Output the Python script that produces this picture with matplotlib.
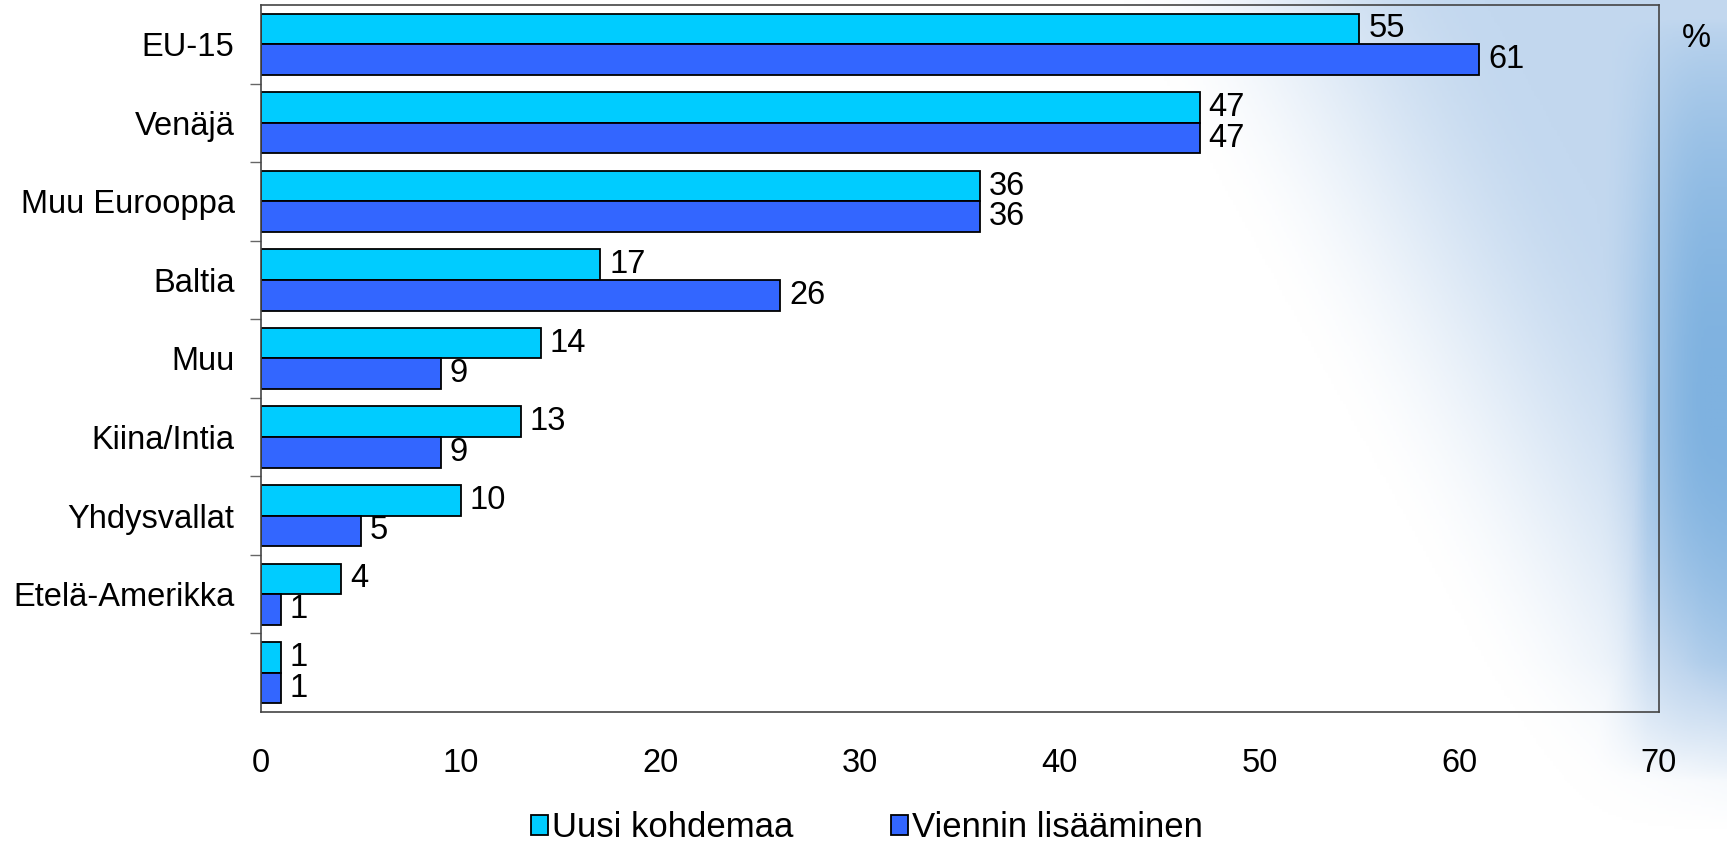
import numpy as np
import matplotlib.pyplot as plt
from matplotlib import font_manager
from matplotlib.colors import LinearSegmentedColormap

plt.rcParams['font.family'] = ['Liberation Sans', 'DejaVu Sans']

# Data
alueet = ['EU-15', 'Venäjä', 'Muu Eurooppa', 'Baltia', 'Muu',
          'Kiina/Intia', 'Yhdysvallat', 'Etelä-Amerikka', '']
uusi_kohdemaa = [55, 47, 36, 17, 14, 13, 10, 4, 1]
viennin_lisays = [61, 47, 36, 26, 9, 9, 5, 1, 1]
sarjat = ['Uusi kohdemaa', 'Viennin lisääminen']
varit = ['#00CCFF', '#3366FF']

fig = plt.figure(figsize=(17.27, 8.5), dpi=100)

# taustan liukuväri (valkoinen -> vaaleansininen oikealla)
bg = fig.add_axes([0, 0, 1, 1], zorder=-10)
xx = np.linspace(0, 1, 600)
yy = np.linspace(0, 1, 300)  # 0 = ylhäällä
X, Y = np.meshgrid(xx, yy)
x0 = 0.64 + 0.27 * Y
t = np.clip((X - x0) / 0.22, 0, 1)
grad = t * t * (3 - 2 * t) * 0.5
grad *= np.clip((0.98 - Y) / 0.2, 0, 1)
pysty = np.clip(np.sin(np.pi * np.clip((Y - 0.02) / 0.9, 0, 1)), 0, 1) ** 0.7
s = np.clip((X - 0.925) / 0.065, 0, 1)
strip = s * s * (3 - 2 * s) * pysty
grad = np.clip(np.maximum(grad, 0.5 * np.clip((X - 0.915) / 0.04, 0, 1) * pysty) + strip * 0.5, 0, 1)
cmap = LinearSegmentedColormap.from_list('bg', ['#ffffff', '#c3d8ef', '#7fb2e0'])
bg.imshow(grad, cmap=cmap, aspect='auto', extent=[0, 1, 0, 1], vmin=0, vmax=1, origin='upper')
bg.axis('off')

ax = fig.add_axes([0.1511, 0.1624, 0.8095, 0.8317])
ax.patch.set_alpha(0)

y = np.arange(len(alueet))
h = 0.39
b1 = ax.barh(y - h / 2, uusi_kohdemaa, height=h, color=varit[0], edgecolor='black',
             linewidth=1.3, label=sarjat[0])
b2 = ax.barh(y + h / 2, viennin_lisays, height=h, color=varit[1], edgecolor='black',
             linewidth=1.3, label=sarjat[1])
for bars, vals in ((b1, uusi_kohdemaa), (b2, viennin_lisays)):
    for bar, v in zip(bars, vals):
        ax.text(v + 0.45, bar.get_y() + bar.get_height() / 2, str(v),
                va='center', ha='left', fontsize=23.5)

ax.set_xlim(0, 70)
ax.set_ylim(len(alueet) - 0.5, -0.5)
ax.set_xticks(range(0, 71, 10))
ax.tick_params(axis='x', length=0, pad=26, labelsize=23.5)

ax.set_yticks(np.arange(0.5, len(alueet) - 1, 1))
ax.set_yticklabels([])
ax.tick_params(axis='y', which='major', length=8, width=1, color='#666666')
ax.set_yticks(y, minor=True)
ax.set_yticklabels(alueet, minor=True, fontsize=23.5)
ax.tick_params(axis='y', which='minor', length=0, pad=19)

for sp in ax.spines.values():
    sp.set_color('#444444')
    sp.set_linewidth(1.2)

fig.text(0.982, 0.955, '%', fontsize=23.5, ha='center', va='center')

nimet = {f.name for f in font_manager.fontManager.ttflist}
if 'Liberation Sans Narrow' in nimet:
    leg_font = {'family': ['Liberation Sans Narrow', 'DejaVu Sans'], 'size': 29}
else:
    leg_font = {'family': ['Liberation Sans', 'DejaVu Sans'], 'size': 25}
fig.legend(handles=[b1, b2], labels=sarjat, loc='center', bbox_to_anchor=(0.502, 0.026),
           ncol=2, frameon=False, handlelength=0.5, handleheight=0.5,
           handletextpad=0.12, columnspacing=2.8, borderpad=0, prop=leg_font)

fig.savefig('out.png', dpi=100)
